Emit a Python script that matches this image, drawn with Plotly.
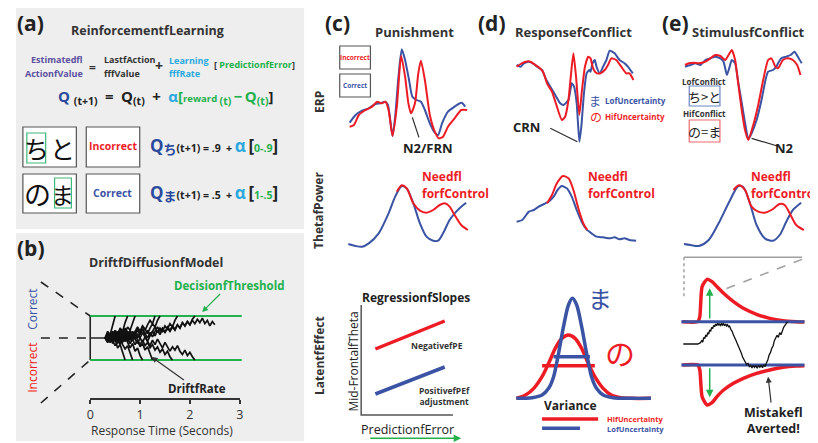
import plotly.graph_objects as go

# reference picture size and the page's default body margin (8 px) that the browser adds
REF_W, REF_H = 818, 443
OX, OY = 8, 8
W, H = REF_W - OX, REF_H - OY
FAM = "Open Sans, Noto Sans CJK JP"
CJK = "Noto Sans CJK JP"
BLUE = "#3a53a4"; RED = "#ed1c24"; GREEN = "#22b14c"; CYAN = "#29a9e0"
PURPLE = "#5b4ea0"; QBLUE = "#2b4a9b"; DARK = "#2b2b2b"; GRAY = "#a0a0a0"

# ---------------- data (ERP amplitude axis negative-up) ----------------
erp_c_blue_t = [42, 60, 80, 100, 120, 135, 150, 158, 165, 172, 180, 190, 200, 210, 222, 232, 245, 258, 270, 285, 300, 310, 322, 340, 360, 372, 382, 392]
erp_c_blue_v = [248, 225, 212, 205, 192, 190, 185, 195, 240, 288, 230, 110, 28, 60, 120, 170, 180, 185, 210, 250, 278, 285, 250, 215, 200, 192, 188, 200]
erp_c_red_t = [42, 55, 70, 90, 110, 125, 140, 150, 160, 172, 185, 198, 210, 220, 228, 240, 250, 258, 270, 285, 300, 312, 325, 340, 360, 380, 398]
erp_c_red_v = [260, 255, 225, 210, 200, 185, 190, 185, 210, 288, 200, 48, 110, 190, 220, 190, 100, 62, 120, 225, 275, 295, 290, 260, 235, 210, 210]

erp_d_blue_t = [38, 50, 60, 75, 90, 100, 115, 128, 140, 155, 170, 180, 195, 205, 212, 220, 228, 234, 242, 250, 258, 262, 268, 275, 280, 290, 300, 310, 320, 335, 350, 365, 375, 390]
erp_d_blue_v = [75, 80, 70, 65, 72, 80, 90, 120, 140, 165, 190, 195, 180, 130, 140, 190, 305, 260, 160, 100, 90, 95, 70, 60, 80, 100, 80, 60, 32, 40, 60, 70, 80, 100]
erp_d_red_t = [38, 50, 65, 80, 95, 105, 118, 130, 145, 160, 175, 185, 195, 202, 210, 218, 228, 236, 245, 255, 262, 268, 275, 282, 292, 305, 315, 325, 340, 355, 370, 380, 392]
erp_d_red_v = [80, 72, 65, 65, 75, 82, 95, 130, 155, 200, 240, 230, 180, 110, 40, 110, 225, 150, 80, 50, 55, 80, 95, 100, 100, 90, 75, 55, 60, 80, 100, 100, 120]

erp_e_blue_t = [38, 55, 70, 85, 100, 115, 130, 145, 155, 165, 172, 180, 190, 200, 212, 222, 230, 240, 255, 270, 282, 290, 305, 315, 320, 330, 345, 358, 370, 380, 392]
erp_e_blue_v = [80, 75, 70, 75, 60, 55, 50, 55, 65, 105, 85, 60, 70, 130, 200, 260, 298, 280, 240, 180, 120, 95, 90, 80, 70, 55, 50, 45, 35, 50, 70]
erp_e_red_t = [38, 50, 65, 80, 100, 115, 130, 145, 160, 170, 180, 190, 198, 210, 220, 230, 245, 260, 275, 290, 300, 312, 320, 335, 350, 365, 378, 388]
erp_e_red_v = [75, 70, 68, 70, 65, 55, 45, 48, 60, 45, 30, 60, 120, 210, 270, 300, 255, 195, 120, 60, 55, 80, 85, 60, 55, 60, 75, 105]

theta_c_blue_t = [38, 60, 80, 100, 130, 160, 180, 200, 215, 235, 255, 275, 295, 310, 325, 345, 365, 380, 395]
theta_c_blue_v = [282, 288, 290, 280, 250, 190, 140, 108, 115, 160, 220, 260, 272, 272, 250, 210, 185, 170, 158]
theta_c_red_t = [185, 200, 215, 235, 255, 275, 295, 315, 330, 345, 360, 380, 400]
theta_c_red_v = [125, 106, 115, 160, 182, 188, 180, 165, 160, 170, 195, 225, 240]

theta_d_blue_t = [548, 565, 585, 600, 615, 635, 645, 660, 672, 685, 700, 715, 730, 745, 760, 775, 790, 810, 830, 845, 860, 875, 890, 910]
theta_d_blue_v = [215, 210, 185, 180, 170, 160, 155, 140, 120, 108, 115, 140, 180, 215, 238, 250, 260, 262, 265, 262, 268, 265, 270, 272]
theta_d_red_t = [640, 655, 670, 688, 705, 720, 735, 750, 762]
theta_d_red_v = [160, 135, 100, 78, 85, 120, 175, 220, 240]

theta_e_blue_t = [1055, 1075, 1100, 1130, 1160, 1190, 1220, 1235, 1255, 1275, 1300, 1325, 1345, 1365, 1385, 1410]
theta_e_blue_v = [282, 285, 288, 270, 220, 160, 108, 112, 160, 225, 265, 272, 255, 215, 180, 158]
theta_e_red_t = [1205, 1222, 1240, 1260, 1280, 1300, 1320, 1345, 1360, 1378, 1395, 1418]
theta_e_red_v = [120, 106, 120, 170, 185, 188, 180, 162, 165, 195, 225, 240]

pe_x = [135, 345]
theta_neg_pe = [387, 303]
theta_pos_pe = [522, 441]

gauss_x_lo = [52, 100, 130, 150, 165, 180, 195, 210, 222, 235, 250, 265, 280, 295, 315, 345, 400, 460]
gauss_y_lo = [535, 533, 525, 505, 470, 400, 320, 255, 235, 255, 320, 400, 470, 505, 525, 533, 535, 535]
gauss_x_hi = [52, 80, 105, 130, 150, 170, 190, 210, 230, 250, 270, 290, 315, 340, 370, 400, 460]
gauss_y_hi = [535, 525, 505, 470, 430, 385, 355, 345, 355, 385, 430, 470, 505, 525, 533, 535, 535]

bound_t = [75, 122, 128, 135, 150, 165, 180, 200, 230, 260, 300, 340, 380, 420, 445]
bound_up = [305, 305, 290, 200, 178, 185, 200, 220, 245, 265, 283, 295, 302, 305, 306]
bound_lo = [435, 435, 450, 530, 555, 548, 530, 510, 490, 475, 460, 450, 442, 438, 437]

mist_t = [78, 95, 110, 122, 130, 134, 137, 140, 143, 146, 149, 152, 155, 158, 161, 164, 167, 170, 173, 176,
          179, 182, 185, 188, 191, 194, 197, 200, 203, 206, 209, 212, 215, 218, 222, 226, 230, 234, 238, 242,
          246, 250, 254, 258, 262, 266, 270, 274, 278, 282, 286, 290, 294, 298, 302, 306, 310, 314, 318, 322,
          326, 330, 334, 338, 342, 346, 350, 354, 358, 362, 366, 370, 374, 378, 382, 386, 390, 394]
mist_v = [372, 372, 372, 372, 368, 362, 366, 352, 356, 345, 350, 338, 342, 330, 334, 322, 326, 316, 320, 312,
          317, 310, 316, 311, 318, 310, 315, 311, 317, 312, 318, 314, 320, 318, 328, 334, 345, 352, 362, 372,
          380, 392, 400, 412, 420, 428, 434, 430, 440, 436, 444, 436, 442, 437, 445, 436, 442, 435, 443, 434,
          440, 428, 420, 405, 398, 385, 378, 362, 355, 346, 352, 338, 344, 330, 322, 316, 310, 305]

dd_t = [0.30, 0.35, 0.40, 0.45, 0.50, 0.55, 0.60, 0.65, 0.70, 0.75, 0.80, 0.85, 0.90, 0.95, 1.00,
        1.05, 1.10, 1.15, 1.20, 1.25, 1.30, 1.35, 1.40, 1.45, 1.50, 1.55, 1.60, 1.65, 1.70, 1.75,
        1.80, 1.85, 1.90, 1.95, 2.00, 2.05, 2.10, 2.15, 2.20, 2.25, 2.30, 2.35, 2.40, 2.45, 2.50]
dd_paths = [
    [0.0, 0.3, 0.15, 0.6, 1.0],
    [0.0, -0.2, 0.1, -0.25, -0.05, -0.45, -0.3, -0.7, -1.0],
    [0.0, 0.1, -0.2, 0.15, 0.35, 0.1, 0.45, 0.3, 0.7, 1.0],
    [0.0, -0.15, 0.1, -0.1, -0.35, -0.15, 0.05, -0.3, -0.5, -0.35, -0.7, -1.0],
    [0.0, 0.2, -0.15, 0.1, 0.35, 0.05, 0.3, -0.05, 0.25, 0.5, 0.35, 0.7, 1.0],
    [0.0, -0.1, 0.2, -0.05, 0.25, 0.0, -0.3, -0.1, 0.15, -0.2, -0.45, -0.25, -0.6, -0.45, -0.8, -1.0],
    [0.0, 0.15, -0.1, 0.2, 0.0, 0.3, 0.05, -0.2, 0.1, -0.15, 0.15, -0.05, -0.3, -0.1, -0.4, -0.25, -0.55, -0.4, -0.75, -1.0],
    [0.0, 0.15, -0.2, 0.05, 0.3, 0.1, -0.15, 0.2, 0.45, 0.25, 0.0, 0.3, 0.15, 0.4, 0.2, 0.55, 0.35, 0.6, 0.8, 0.65, 1.0],
    [0.0, -0.15, 0.1, -0.2, 0.05, -0.25, 0.0, 0.2, -0.1, 0.15, 0.35, 0.1, 0.3, 0.5, 0.3, 0.55, 0.4, 0.2, 0.45, 0.65, 0.5, 0.8, 1.0],
    [0.0, 0.2, 0.05, 0.3, 0.1, -0.15, 0.15, -0.1, 0.2, 0.0, -0.25, -0.05, 0.2, -0.1, -0.3, -0.1, -0.35, -0.2, -0.45, -0.3,
     -0.55, -0.4, -0.65, -0.5, -0.75, -0.6, -0.85, -1.0],
    [0.0, -0.1, 0.15, -0.05, 0.2, 0.05, -0.2, 0.05, -0.15, 0.1, 0.3, 0.05, 0.25, 0.0, 0.2, 0.4, 0.15, 0.35, 0.1, 0.3,
     0.5, 0.25, 0.45, 0.3, 0.55, 0.4, 0.65, 0.5, 0.8, 1.0],
    [0.0, 0.1, -0.15, 0.15, -0.05, 0.2, 0.4, 0.15, 0.35, 0.1, -0.1, 0.15, -0.05, 0.2, 0.0, 0.25, 0.05, -0.15, 0.1, 0.3,
     0.1, 0.35, 0.15, 0.4, 0.25, 0.45, 0.3, 0.5, 0.35, 0.6, 0.45, 0.7, 0.55, 0.75, 0.6, 0.85, 1.0],
    [0.0, -0.2, 0.05, -0.1, 0.2, 0.0, -0.2, 0.05, -0.15, 0.1, -0.1, 0.15, -0.05, -0.25, 0.0, -0.2, 0.05, -0.15, -0.35, -0.1,
     -0.3, -0.05, -0.25, -0.45, -0.2, -0.4, -0.6, -0.4, -0.55, -0.35, -0.6, -0.75, -0.55, -0.8, -0.65, -0.85, -1.0],
    [0.0, 0.15, -0.05, 0.2, 0.0, 0.25, 0.05, -0.15, 0.1, 0.3, 0.1, -0.1, 0.15, 0.35, 0.15, 0.4, 0.2, 0.0, 0.25, 0.05,
     0.3, 0.5, 0.3, 0.45, 0.25, 0.5, 0.35, 0.55, 0.4, 0.6, 0.45, 0.7, 0.55, 0.75, 0.6, 0.8, 0.65, 0.85, 0.7, 0.9,
     0.65, 0.8, 0.55, 0.75, 0.6],
]
dd_bounds = [1, -1]
dd_ticks = [0, 1, 2, 3]

# ---------------- figure ----------------
fig = go.Figure()
layout = dict(width=W, height=H, margin=dict(l=0, r=0, t=0, b=0), paper_bgcolor="white",
              plot_bgcolor="rgba(0,0,0,0)", showlegend=False, font=dict(family=FAM, color=DARK))


def fx(x):
    return (x - OX) / W


def fy(y):
    return 1 - (y - OY) / H


def nm(i, k):
    return k + ("" if i == 1 else str(i))


def panel(i, x0, y0, x1, y1, xr, yr):
    layout[nm(i, "xaxis")] = dict(domain=[fx(x0), min(1, fx(x1))], range=xr, visible=False, anchor=nm(i, "y"), fixedrange=True)
    layout[nm(i, "yaxis")] = dict(domain=[max(0, fy(y1)), fy(y0)], range=yr, visible=False, anchor=nm(i, "x"), fixedrange=True)


def line(i, xs, ys, color, width=2.0, dash="solid", smooth=0):
    fig.add_trace(go.Scatter(x=xs, y=ys, mode="lines", xaxis=nm(i, "x"), yaxis=nm(i, "y"), hoverinfo="skip",
                             line=dict(color=color, width=width, dash=dash,
                                       shape="spline" if smooth else "linear",
                                       smoothing=smooth if smooth else None)))


ann = []
shapes = []


def T(x, y, text, size=12, color=DARK, bold=True, xa="center", angle=0, family=None):
    ann.append(dict(x=fx(x), y=fy(y), xref="paper", yref="paper", text=f"<b>{text}</b>" if bold else text,
                    showarrow=False, xanchor=xa, yanchor="middle", textangle=angle,
                    font=dict(size=size, color=color, family=family or FAM)))


def rect(x0, y0, x1, y1, lc, fill="white", width=1.2, layer="above"):
    shapes.append(dict(type="rect", xref="paper", yref="paper", x0=fx(x0), x1=fx(x1), y0=fy(y1), y1=fy(y0),
                       line=dict(color=lc, width=width), fillcolor=fill, layer=layer))


# gray backgrounds of (a) and (b)
rect(12, 8, 303, 229, "rgba(0,0,0,0)", fill="#eeeeee", width=0, layer="below")
rect(12, 233, 303, 441, "rgba(0,0,0,0)", fill="#eeeeee", width=0, layer="below")

# ---- panels / axes ----
panel(1, 335, 40, 475, 150, [0, 420], [330, 0])     # ERP (c)
panel(2, 505, 40, 655, 150, [0, 450], [330, 0])     # ERP (d)
panel(3, 675, 40, 818, 150, [0, 429], [330, 0])     # ERP (e)
panel(4, 335, 150, 818, 260, [0, 1449], [330, 0])   # theta row
panel(5, 330, 220, 500, 443, [0, 510], [669, 0])    # regression slopes
panel(6, 500, 220, 660, 443, [0, 480], [669, 0])    # variance
panel(7, 660, 220, 818, 443, [0, 474], [669, 0])    # mistake averted
px_per_s, px_per_u, x_zero, y_mid = 151 / 3, 22.0, 87, 338
panel(8, 30, 275, 245, 410, [(30 - x_zero) / px_per_s, (245 - x_zero) / px_per_s],
      [-(410 - y_mid) / px_per_u, (y_mid - 275) / px_per_u])

# time axis of (b)
layout["xaxis9"] = dict(domain=[fx(87), fx(238)], range=[0, 3], anchor="free", position=fy(399),
                        showline=True, linecolor="#333", linewidth=1.5, ticks="outside", ticklen=4, tickwidth=1.5,
                        tickcolor="#333", tickvals=dd_ticks, tickfont=dict(size=12.5, color="#333"),
                        showgrid=False, zeroline=False, fixedrange=True)
layout["yaxis9"] = dict(domain=[0, 0.02], visible=False, anchor="x9", fixedrange=True)
fig.add_trace(go.Scatter(x=[0, 3], y=[0, 0], xaxis="x9", yaxis="y9", mode="markers",
                         marker=dict(opacity=0), hoverinfo="skip"))

# ---- ERP traces ----
line(1, erp_c_blue_t, erp_c_blue_v, BLUE, 2, smooth=0.6)
line(1, erp_c_red_t, erp_c_red_v, RED, 2, smooth=0.6)
line(1, [232, 252], [232, 292], DARK, 1.2)
line(2, erp_d_blue_t, erp_d_blue_v, BLUE, 2, smooth=0.5)
line(2, erp_d_red_t, erp_d_red_v, RED, 2, smooth=0.5)
line(2, [140, 222], [265, 305], DARK, 1.2)
line(3, erp_e_blue_t, erp_e_blue_v, BLUE, 2, smooth=0.5)
line(3, erp_e_red_t, erp_e_red_v, RED, 2, smooth=0.5)
line(3, [240, 318], [295, 318], DARK, 1.2)

# ---- theta ----
line(4, theta_c_blue_t, theta_c_blue_v, BLUE, 2, smooth=0.8)
line(4, theta_c_red_t, theta_c_red_v, RED, 2, smooth=0.8)
line(4, theta_d_blue_t, theta_d_blue_v, BLUE, 2, smooth=0.6)
line(4, theta_d_red_t, theta_d_red_v, RED, 2, smooth=0.8)
line(4, theta_e_blue_t, theta_e_blue_v, BLUE, 2, smooth=0.8)
line(4, theta_e_red_t, theta_e_red_v, RED, 2, smooth=0.8)

# ---- regression slopes ----
line(5, [92, 92, 370], [255, 585, 585], "#555", 1.5)
line(5, pe_x, theta_neg_pe, RED, 3.5)
line(5, pe_x, theta_pos_pe, BLUE, 3.5)

# ---- variance ----
line(6, gauss_x_hi, gauss_y_hi, RED, 3.5, smooth=0.8)
line(6, [130, 290], [437, 437], RED, 3.5)
line(6, gauss_x_lo, gauss_y_lo, BLUE, 3.5, smooth=0.8)
line(6, [165, 275], [410, 410], BLUE, 3.5)
line(6, [130, 300], [597, 597], RED, 3.5)
line(6, [130, 245], [625, 625], BLUE, 3.5)

# ---- mistake averted ----
line(7, [80, 438], [112, 112], GRAY, 1.5)
line(7, [80, 80], [112, 230], GRAY, 1.5, dash="dot")
line(7, [438, 205], [118, 207], GRAY, 1.5, dash="dash")
line(7, bound_t, bound_up, RED, 3.5, smooth=0.6)
line(7, bound_t, bound_lo, RED, 3.5, smooth=0.6)
line(7, [72, 445], [305, 305], BLUE, 3)
line(7, [72, 445], [435, 435], BLUE, 3)
line(7, mist_t, mist_v, "#111", 1.3)

# ---- drift diffusion ----
line(8, [-0.99, 0], [(y_mid - 282) / px_per_u, 1], "#222", 1.6, dash="dash")
line(8, [-0.99, 0], [-(403 - y_mid) / px_per_u, -1], "#222", 1.6, dash="dash")
line(8, [-0.99, 0], [0, 0], "#222", 1.6, dash="dash")
line(8, [0, 0.3], [0, 0], "#222", 1.6)
line(8, [0, 0], [-1, 1], "#222", 1.6)
for b in dd_bounds:
    line(8, [0, 3.04], [b, b], GREEN, 2)
for p in dd_paths:
    line(8, dd_t[:len(p)], p, "#111", 1.7)

# ---------------- text ----------------
# (a)
T(27, 23, "(a)", 21, "#222")
T(145, 31, "ReinforcementfLearning", 12.5, "#333")
T(82, 60, "Estimatedfl", 9, PURPLE, xa="right")
T(82, 73, "ActionfValue", 9, PURPLE, xa="right")
T(89, 67, "=", 12, "#333")
T(99, 60, "LastfAction", 9, "#333", xa="left")
T(99, 73, "fffValue", 9, "#333", xa="left")
T(156, 65, "+", 14, "#333")
T(165, 61, "Learning", 9, CYAN, xa="left")
T(165, 73, "fffRate", 9, CYAN, xa="left")
T(210, 64, f"[ <span style='color:{GREEN}'>PredictionfError</span>]", 9, "#333", xa="left")
eq = (f"<span style='color:{QBLUE}'>Q</span> <sub>(t+1)</sub>\u2002=\u2002Q<sub>(t)</sub>\u2002+\u2002"
      f"<span style='color:{CYAN}'>α</span><span style='color:{GREEN}'>[</span>"
      f"<span style='color:{GREEN};font-size:9.5px'>reward </span>"
      f"<span style='color:{GREEN}'><sub>(t)</sub>\u2009\u2212\u2009Q<sub>(t)</sub></span>]")
T(52, 97, eq, 15, "#222", xa="left")

rect(19, 127, 73, 167, "#555")
rect(23, 133, 42, 163, "#3cb878")
T(33, 148, "ち", 25, "#111", bold=False, family=CJK)
T(59, 148, "と", 25, "#111", bold=False, family=CJK)
rect(83, 127, 137, 167, "#555")
T(110, 146, "Incorrect", 10.5, RED)
rect(19, 174, 73, 213, "#555")
rect(51, 178, 68, 208, "#3cb878")
T(34, 194, "の", 27, "#111", bold=False, family=CJK)
T(59, 194, "ま", 23, "#111", bold=False, family=CJK)
rect(83, 174, 137, 213, "#555")
T(110, 193, "Correct", 10.5, BLUE)


def row_eq(char, v0, diff):
    return (f"<span style='color:{QBLUE};font-size:17px'>Q</span>"
            f"<sub><span style='color:{QBLUE};font-size:13px'>{char}</span></sub>(t+1) = {v0}\u2002+ "
            f"<span style='color:{CYAN};font-size:17px'>α</span> <span style='font-size:17px'>[</span>"
            f"<span style='color:{GREEN}'>{diff}</span><span style='font-size:17px'>]</span>")


T(145, 146, row_eq("ち", ".9", "0-.9"), 10.5, "#222", xa="left")
T(145, 193, row_eq("ま", ".5", "1-.5"), 10.5, "#222", xa="left")

# (b)
T(27, 248, "(b)", 21, "#222")
T(153, 262, "DriftfDiffusionfModel", 12.5, "#333")
T(28, 309, "Correct", 12, BLUE, bold=False, angle=-90)
T(28, 368, "Incorrect", 12, RED, bold=False, angle=-90)
T(160, 430, "Response Time (Seconds)", 12, "#333", bold=False)
ann.append(dict(x=2.245, y=1.18, xref="x8", yref="y8", text="<b>DecisionfThreshold</b>", showarrow=True,
                ax=27, ay=-27, arrowhead=2, arrowsize=1, arrowwidth=1.2, arrowcolor=GREEN,
                font=dict(size=11.5, color=GREEN, family=FAM)))
ann.append(dict(x=1.23, y=-0.86, xref="x8", yref="y8", text="<b>DriftfRate</b>", showarrow=True,
                ax=45, ay=32, arrowhead=2, arrowsize=1, arrowwidth=1.2, arrowcolor="#333",
                font=dict(size=11.5, color="#222", family=FAM)))


def need_for_control(x):
    T(x, 176, "Needfl", 12, RED, xa="left")
    T(x, 193, "forfControl", 12, RED, xa="left")


# (c)
T(337, 23, "(c)", 21, "#222")
T(415, 32, "Punishment", 13, "#333")
rect(339, 46, 370, 69, "#555")
T(354.5, 58, "Incorrect", 6.5, RED)
rect(339, 74, 370, 97, "#555")
T(354.5, 85, "Correct", 6.5, BLUE)
T(428, 148, "N2/FRN", 13, "#222")
T(318, 102, "ERP", 12, "#333", angle=-90)
T(318, 210, "ThetafPower", 12, "#333", angle=-90)
T(318, 355, "LatentfEffect", 12, "#333", angle=-90)
need_for_control(420)
T(416, 297, "RegressionfSlopes", 12, "#222")
T(437, 345, "NegativefPE", 8.5, "#333")
T(445, 396, "PositivefPEf<br>adjustment", 8.5, "#333")
T(352, 362, "Mid-FrontalfTheta", 12, "#222", bold=False, angle=-90)
T(407, 429, "PredictionfError", 12.5, "#222", bold=False)
ann.append(dict(x=395, y=655, xref="x5", yref="y5", ax=115, ay=655, axref="x5", ayref="y5", text="",
                showarrow=True, arrowhead=2, arrowsize=1, arrowwidth=1.5, arrowcolor=GREEN))

# (d)
T(493, 23, "(d)", 21, "#222")
T(575, 32, "ResponsefConflict", 13, "#333")
T(528, 127, "CRN", 13, "#222")
T(597, 100, "ま", 12, BLUE, bold=False, family=CJK)
T(605, 101, "LofUncertainty", 8, BLUE, xa="left")
T(598, 117, "の", 12, RED, bold=False, family=CJK)
T(605, 117, "HifUncertainty", 8, RED, xa="left")
need_for_control(588)
T(602, 297, "ま", 24, BLUE, bold=False, family=CJK)
T(622, 352, "の", 30, RED, bold=False, family=CJK)
T(572, 405, "Variance", 12, "#222")
T(607, 418.5, "HifUncertainty", 7.5, RED, xa="left")
T(607, 429, "LofUncertainty", 7.5, BLUE, xa="left")

# (e)
T(678, 23, "(e)", 21, "#222")
T(752, 32, "StimulusfConflict", 13, "#333")
T(707, 81, "LofConflict", 8, "#333")
rect(692, 86, 723, 106, "#6f86c6")
T(707.5, 96, "ち&gt;と", 13, "#222", bold=False, family=CJK)
T(707, 114, "HifConflict", 8, "#333")
rect(692, 120, 723, 142, "#ee6b6e")
T(707.5, 131, "の=ま", 13, "#222", bold=False, family=CJK)
T(788, 148, "N2", 13, "#222")
need_for_control(752)
ann.append(dict(x=158, y=205, xref="x7", yref="y7", ax=158, ay=300, axref="x7", ayref="y7", text="",
                showarrow=True, arrowhead=2, arrowsize=1, arrowwidth=1.5, arrowcolor=GREEN))
ann.append(dict(x=158, y=532, xref="x7", yref="y7", ax=158, ay=440, axref="x7", ayref="y7", text="",
                showarrow=True, arrowhead=2, arrowsize=1, arrowwidth=1.5, arrowcolor=GREEN))
ann.append(dict(x=335, y=470, xref="x7", yref="y7", text="<b>Mistakefl<br>Averted!</b>", showarrow=True,
                ax=5, ay=44, arrowhead=2, arrowsize=1, arrowwidth=1.2, arrowcolor="#333",
                font=dict(size=12.5, color="#222", family=FAM)))

layout["annotations"] = ann
layout["shapes"] = shapes
fig.update_layout(**layout)
fig.write_html("out.html")
